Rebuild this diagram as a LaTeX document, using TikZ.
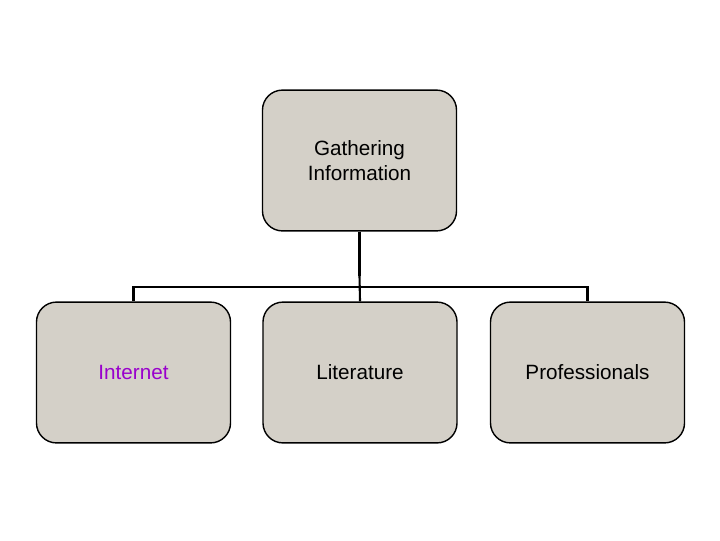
\documentclass[tikz,border=0pt]{standalone}
\usepackage{fontspec}
\setmainfont{Liberation Sans}
\definecolor{boxgray}{RGB}{212,208,200}
\definecolor{netpurple}{RGB}{153,0,204}
\tikzset{
    infobox/.style={draw=black, line width=1pt, fill=boxgray, rounded corners=0.5cm,
        minimum width=4.85cm, minimum height=3.52cm, inner sep=0pt, align=center,
        font=\fontsize{14.7}{17.8}\selectfont}
}
\begin{document}
\begin{tikzpicture}[x=0.025cm, y=-0.025cm]
    \useasboundingbox (0,0) rectangle (720,540);

    % Boxes
    \node[infobox] (gather) at (359.5,160.5) {Gathering\\Information};
    \node[infobox, text=netpurple] (net) at (133.5,372.5) {Internet};
    \node[infobox] (lit) at (360,372.5) {Literature};
    \node[infobox] (prof) at (587.5,372.5) {Professionals};

    % Connectors
    \draw[line width=2.6pt] (gather.south) -- ++(0,44) coordinate (joint);
    \draw[line width=1.5pt] (joint) -- (lit.north);
    \draw[line width=1.5pt] (net.north) -- ++(0,-14) -| (prof.north);
\end{tikzpicture}
\end{document}
